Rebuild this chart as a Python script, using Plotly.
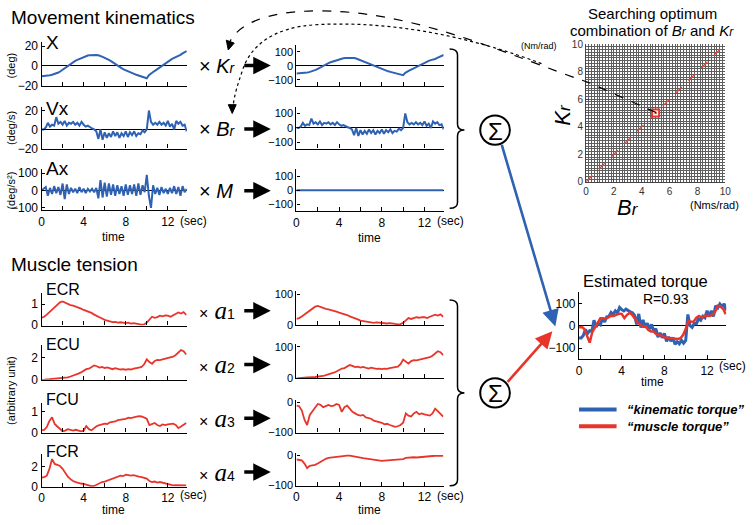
import plotly.graph_objects as go

W, H = 754, 525
BLUE = "#2f62b3"
RED = "#e8352b"
FONT = "Liberation Sans, Arial, sans-serif"
SERIF = "Liberation Serif, Times New Roman, serif"

# ---------------- data ----------------
T_KIN = [0.0, 0.2, 0.4, 0.6, 0.8, 1.0, 1.2, 1.4, 1.6, 1.8,
         2.0, 2.2, 2.4, 2.6, 2.8, 3.0, 3.2, 3.4, 3.6, 3.8,
         4.0, 4.2, 4.4, 4.6, 4.8, 5.0, 5.2, 5.4, 5.6, 5.8,
         6.0, 6.2, 6.4, 6.6, 6.8, 7.0, 7.2, 7.4, 7.6, 7.8,
         8.0, 8.2, 8.4, 8.6, 8.8, 9.0, 9.2, 9.4, 9.6, 9.8,
         10.0, 10.2, 10.4, 10.6, 10.8, 11.0, 11.2, 11.4, 11.6, 11.8,
         12.0, 12.2, 12.4, 12.6, 12.8, 13.0, 13.2, 13.4, 13.6, 13.8]

X_DEG = [-10.5, -10.4, -10.2, -9.9, -9.5, -9.0, -8.5, -7.8, -6.8, -5.5,
         -4.0, -2.2, -0.5, 1.0, 2.3, 3.8, 5.0, 6.0, 7.0, 8.0,
         9.0, 9.8, 10.4, 10.8, 11.0, 11.1, 11.0, 10.7, 10.2, 9.0,
         8.0, 7.2, 6.0, 4.8, 3.2, 1.8, 0.5, -1.0, -2.3, -3.5,
         -4.6, -5.6, -6.6, -7.4, -8.2, -9.0, -9.8, -10.6, -11.4, -12.0,
         -12.6, -9.5, -7.5, -6.2, -4.8, -3.2, -1.6, 0.0, 1.5, 3.0,
         4.2, 5.5, 7.0, 8.0, 8.5, 9.5, 11.0, 12.5, 14.0, 15.0]

VX_DEG_S = [0, 0, 2, 7, 3, 5, 4, 13, 6, 8,
            5, 9, 4, 7, 6, 8, 5, 7, 4, 8,
            5, 3, 4, 2, 1, 0, -2, -10, 0, -11,
            -3, -9, -4, -8, -2, -7, -3, -9, -4, -7,
            -2, -8, -3, -6, -2, -7, -4, -5, -1, -3,
            0, 20, 8, 5, 7, 5, 8, 5, 7, 4,
            9, 3, 6, 0, 9, 6, 8, 4, 5, -2]

AX_DEG_S2 = [0, 10, 20, -30, 15, -20, 25, -15, 20, -25,
             40, -50, 35, -20, 15, -10, 10, -15, 20, -10,
             10, -15, 10, -5, 10, -10, 15, -45, 60, -40,
             45, -35, 40, -25, 35, -30, 30, -20, 25, -30,
             35, -25, 30, -20, 35, -30, 40, -25, 30, -10,
             90, -30, -100, 30, -20, 15, -25, 20, -15, 10,
             -20, 15, -15, 25, -20, 20, -30, 25, -10, 10]

T_EMG = [0.0, 0.25, 0.5, 0.75, 1.0, 1.25, 1.5, 1.75, 2.0, 2.25,
         2.5, 2.75, 3.0, 3.25, 3.5, 3.75, 4.0, 4.25, 4.5, 4.75,
         5.0, 5.25, 5.5, 5.75, 6.0, 6.25, 6.5, 6.75, 7.0, 7.25,
         7.5, 7.75, 8.0, 8.25, 8.5, 8.75, 9.0, 9.25, 9.5, 9.75,
         10.0, 10.25, 10.5, 10.75, 11.0, 11.25, 11.5, 11.75, 12.0, 12.25,
         12.5, 12.75, 13.0, 13.25, 13.5, 13.75]

ECR = [0.35, 0.40, 0.50, 0.62, 0.75, 0.88, 1.00, 1.08, 1.12, 1.05,
       1.02, 0.95, 0.92, 0.88, 0.85, 0.78, 0.72, 0.68, 0.62, 0.58,
       0.50, 0.45, 0.38, 0.32, 0.25, 0.22, 0.18, 0.15, 0.16, 0.12,
       0.14, 0.12, 0.10, 0.12, 0.08, 0.10, 0.06, 0.05, 0.03, 0.04,
       0.12, 0.28, 0.40, 0.35, 0.38, 0.45, 0.42, 0.46, 0.45, 0.40,
       0.48, 0.52, 0.60, 0.55, 0.62, 0.48]

ECU = [-0.05, 0.00, 0.02, 0.03, 0.05, 0.04, 0.08, 0.10, 0.12, 0.15,
       0.20, 0.28, 0.35, 0.45, 0.55, 0.65, 0.80, 0.95, 1.00, 1.15,
       1.30, 1.22, 1.10, 1.15, 1.05, 1.12, 1.00, 0.95, 1.05, 0.98,
       0.92, 0.95, 0.90, 0.95, 0.92, 1.00, 1.02, 1.10, 1.15, 1.40,
       1.85, 1.60, 1.45, 1.70, 1.80, 1.78, 1.85, 1.90, 1.95, 2.05,
       2.10, 2.25, 2.45, 2.70, 2.60, 2.30]

FCU = [0.10, 0.12, 0.25, 0.55, 0.72, 0.40, 0.28, 0.15, 0.05, 0.08,
       0.15, 0.12, 0.08, 0.12, 0.10, 0.05, 0.08, 0.30, 0.15, 0.10,
       0.20, 0.30, 0.35, 0.40, 0.42, 0.40, 0.48, 0.50, 0.52, 0.58,
       0.60, 0.62, 0.65, 0.70, 0.68, 0.72, 0.75, 0.78, 0.76, 0.72,
       0.65, 0.35, 0.42, 0.45, 0.35, 0.30, 0.38, 0.35, 0.38, 0.40,
       0.42, 0.35, 0.20, 0.28, 0.38, 0.45]

FCR = [0.90, 0.95, 1.10, 1.80, 2.80, 2.30, 2.20, 2.10, 1.80, 1.40,
       1.00, 0.75, 0.55, 0.45, 0.35, 0.30, 0.25, 0.15, 0.10, 0.02,
       0.05, 0.20, 0.30, 0.45, 0.50, 0.60, 0.70, 0.80, 0.90, 1.00,
       1.10, 1.05, 1.20, 1.15, 1.10, 1.15, 1.05, 1.00, 0.95, 0.85,
       0.80, 0.55, 0.45, 0.50, 0.40, 0.45, 0.38, 0.30, 0.20, 0.15,
       0.10, 0.12, 0.10, 0.08, 0.10, 0.10]

# gains (middle panels relative to left panels)
KR_GAIN = 5.2
BR_GAIN = 5.0
M_GAIN = 0.0
A1, A2, A3, A4 = 55, 32, -105, -15

# optimum search point
BR_OPT = [5]
KR_OPT = [5]
DIAG_BR = [0, 10]
DIAG_KR = [0, 10]

KR_X = [KR_GAIN * v for v in X_DEG]
BR_VX = [BR_GAIN * v for v in VX_DEG_S]
M_AX = [M_GAIN * v for v in AX_DEG_S2]
A1_ECR = [A1 * v for v in ECR]
A2_ECU = [A2 * v for v in ECU]
A3_FCU = [A3 * v for v in FCU]
A4_FCR = [A4 * v for v in FCR]
KIN_TORQUE = [a + b + c for a, b, c in zip(KR_X, BR_VX, M_AX)]
MUS_TORQUE = [a + b + c + d for a, b, c, d in zip(A1_ECR, A2_ECU, A3_FCU, A4_FCR)]

# ---------------- layout helpers ----------------
def pxx(x):
    return x / W


def pxy(y):
    return 1 - y / H


fig = go.Figure()
layout = dict(width=W, height=H, margin=dict(l=0, r=0, t=0, b=0),
              paper_bgcolor="white", plot_bgcolor="rgba(0,0,0,0)",
              showlegend=False, font=dict(family=FONT, color="black"))


def axid(n):
    return ("x" if n == 1 else f"x{n}"), ("y" if n == 1 else f"y{n}")


def add_panel(n, xl, xr, ref1, ref2, top, bottom, yticks, xlabels, zl,
              ytfont=12, xtfont=12, xend=13.8):
    (v1, p1), (v2, p2) = ref1, ref2
    s = (p2 - p1) / (v1 - v2)
    ymax = v1 + (p1 - top) / s
    ymin = v2 - (bottom - p2) / s
    xa, ya = axid(n)
    xk = "xaxis" if n == 1 else f"xaxis{n}"
    yk = "yaxis" if n == 1 else f"yaxis{n}"
    layout[xk] = dict(domain=[pxx(xl), pxx(xr)], range=[0, xend], anchor=ya,
                      showline=True, linecolor="black", linewidth=1.3,
                      ticks="inside", ticklen=4, tickwidth=1.2, tickcolor="black",
                      tickmode="array", tickvals=[0, 2, 4, 6, 8, 10, 12],
                      ticktext=["0", "", "4", "", "8", "", "12"],
                      showticklabels=xlabels, showgrid=False, zeroline=False,
                      tickfont=dict(size=xtfont, family=FONT, color="black"))
    layout[yk] = dict(domain=[pxy(bottom), pxy(top)], range=[ymin, ymax], anchor=xa,
                      showline=True, linecolor="black", linewidth=1.3,
                      ticks="inside", ticklen=3, tickwidth=1.2, tickcolor="black",
                      tickmode="array", tickvals=yticks,
                      showgrid=False, zeroline=zl, zerolinecolor="black",
                      zerolinewidth=1.3,
                      tickfont=dict(size=ytfont, family=FONT, color="black"))
    return xa, ya


def line(n_axes, x, y, color, width):
    xa, ya = n_axes
    fig.add_trace(go.Scatter(x=x, y=y, mode="lines", xaxis=xa, yaxis=ya,
                             line=dict(color=color, width=width), hoverinfo="skip"))


# kinematics, left column
p = add_panel(1, 39, 186, (20, 42), (-20, 82.5), 38, 83, [-20, 0, 20], False, True)
line(p, T_KIN, X_DEG, BLUE, 2)
p = add_panel(2, 39, 186, (20, 108), (-20, 146.7), 104, 147, [-20, 0, 20], False, True)
line(p, T_KIN, VX_DEG_S, BLUE, 2)
p = add_panel(3, 39, 186, (100, 172), (-100, 207.7), 168, 210, [-100, 0, 100], True, True)
line(p, T_KIN, AX_DEG_S2, BLUE, 2)
# kinematics, middle column
p = add_panel(4, 297, 446, (100, 48), (-100, 76.7), 41, 83, [-100, 0, 100], False, True, ytfont=11)
line(p, T_KIN, KR_X, BLUE, 2)
p = add_panel(5, 297, 446, (100, 111), (-100, 140.7), 104, 147, [-100, 0, 100], False, True, ytfont=11)
line(p, T_KIN, BR_VX, BLUE, 2)
p = add_panel(6, 297, 446, (100, 175), (-100, 204), 168, 211, [-100, 0, 100], True, True, ytfont=11)
line(p, T_KIN, M_AX, BLUE, 2)
# muscle, left column
p = add_panel(7, 39, 186, (1, 306), (0, 327.7), 295, 328, [0, 1], False, False)
line(p, T_EMG, ECR, RED, 1.8)
p = add_panel(8, 39, 186, (2, 361), (0, 383.3), 348, 383.5, [0, 2], False, False)
line(p, T_EMG, ECU, RED, 1.8)
p = add_panel(9, 39, 186, (1, 416), (0, 437.3), 407, 437.5, [0, 1], False, False)
line(p, T_EMG, FCU, RED, 1.8)
p = add_panel(10, 39, 186, (2, 472.7), (0, 492.7), 459, 493, [0, 2], True, False)
line(p, T_EMG, FCR, RED, 1.8)
# muscle, middle column
p = add_panel(11, 297, 446, (100, 296), (0, 327.3), 293, 327.5, [0, 100], False, False, ytfont=11)
line(p, T_EMG, A1_ECR, RED, 1.8)
p = add_panel(12, 297, 446, (100, 350), (0, 381.7), 347, 382, [0, 100], False, False, ytfont=11)
line(p, T_EMG, A2_ECU, RED, 1.8)
p = add_panel(13, 297, 446, (0, 406.7), (-100, 437.3), 404, 437.5, [-100, 0], False, False, ytfont=11)
line(p, T_EMG, A3_FCU, RED, 1.8)
p = add_panel(14, 297, 446, (0, 461), (-100, 491.7), 458, 492, [-100, 0], True, False, ytfont=11)
line(p, T_EMG, A4_FCR, RED, 1.8)
# estimated torque
p = add_panel(15, 583, 732, (100, 305.3), (-100, 351.3), 294, 362.7, [-100, 0, 100], True, True)
line(p, T_KIN, KIN_TORQUE, BLUE, 3)
line(p, T_EMG, MUS_TORQUE, RED, 2.5)

# search grid
GRID = "#5e5e5e"
for k in ("xaxis16", "yaxis16"):
    layout[k] = dict(range=[0, 10], tick0=0, dtick=2, ticks="inside", ticklen=3,
                     tickcolor="#444", showline=True, linecolor="#444", linewidth=1,
                     showgrid=True, gridcolor=GRID, gridwidth=0.7,
                     minor=dict(tick0=0, dtick=0.2, showgrid=True,
                                gridcolor=GRID, gridwidth=0.7),
                     zeroline=False, tickfont=dict(size=10, color="#333"))
layout["xaxis16"].update(domain=[pxx(590), pxx(731)], anchor="y16")
layout["yaxis16"].update(domain=[pxy(181), pxy(40)], anchor="x16")
fig.add_trace(go.Scatter(x=DIAG_BR, y=DIAG_KR, mode="lines", xaxis="x16", yaxis="y16",
                         line=dict(color="#e0483c", width=1.3, dash="dash"), hoverinfo="skip"))
fig.add_trace(go.Scatter(x=BR_OPT, y=KR_OPT, mode="markers", xaxis="x16", yaxis="y16",
                         marker=dict(symbol="square", size=7, color="white",
                                     line=dict(color=RED, width=2)), hoverinfo="skip"))
fig.add_trace(go.Scatter(x=BR_OPT, y=KR_OPT, mode="markers", xaxis="x16", yaxis="y16",
                         marker=dict(symbol="circle", size=2.5, color=RED), hoverinfo="skip"))

# ---------------- annotations ----------------
anns = []


def text(x, y, t, size=12, xanchor="center", angle=0, family=FONT, color="black"):
    anns.append(dict(x=pxx(x), y=pxy(y), xref="paper", yref="paper", text=t,
                     showarrow=False, xanchor=xanchor, yanchor="middle",
                     textangle=angle, font=dict(size=size, family=family, color=color)))


def arrow(x0, y0, x1, y1, color="black", width=3.5, head=2, size=1.0):
    anns.append(dict(x=pxx(x1), y=pxy(y1), xref="paper", yref="paper", text="",
                     showarrow=True, ax=x0 - x1, ay=y0 - y1, axref="pixel", ayref="pixel",
                     arrowhead=head, arrowsize=size, arrowwidth=width, arrowcolor=color,
                     standoff=0, startstandoff=0))


text(6, 13, "Movement kinematics", 19, "left")
text(6, 266, "Muscle tension", 19, "left")
text(42, 38, "X", 19, "left")
text(42, 106, "Vx", 19, "left")
text(42, 167, "Ax", 19, "left")
text(8, 62, "(deg)", 11, angle=-90)
text(8, 126, "(deg/s)", 11, angle=-90)
text(8, 190, "(deg/s²)", 11, angle=-90)
text(8, 395, "(arbitrary unit)", 11, angle=-90)
text(42, 291, "ECR", 16, "left")
text(42, 347, "ECU", 16, "left")
text(42, 404, "FCU", 16, "left")
text(42, 457, "FCR", 16, "left")

for (xc, yc) in [(112, 237), (371, 238), (112, 517), (371, 517), (657, 386)]:
    text(xc, yc, "time", 12)
for (xs, ys) in [(177, 221), (437, 221), (177, 501), (437, 502), (723, 369)]:
    text(xs, ys, "(sec)", 12, "left")

SM = "<span style='font-size:14px'>"
rows = [
    (62, "× <i>K</i>" + SM + "<i>r</i></span>"),
    (127, "× <i>B</i>" + SM + "<i>r</i></span>"),
    (190, "× <i>M</i>"),
]
for y, t in rows:
    text(196, y, t, 20, "left")
    arrow(243, y, 271, y)
for i, y in enumerate([313, 368, 423, 478]):
    text(196, y, "<span style='font-size:16px;font-family:Liberation Sans'>×</span> "
         "<i>a</i><span style='font-size:14px;font-family:Liberation Sans'>" + str(i + 1) + "</span>",
         25, "left", family=SERIF)
    arrow(243, y, 271, y)

# sigma symbols
text(498, 129, "Σ", 24)
text(498, 398, "Σ", 24)

# arrows to torque
arrow(505, 146, 559, 329, BLUE, 2.6, 2, 1.3)
arrow(510, 386, 556, 334, RED, 2.6, 2, 1.3)

# grid labels
text(657, 9, "Searching optimum", 15)
text(657, 26, "combination of <i>B</i><span style='font-size:12px'><i>r</i></span> and "
     "<i>K</i><span style='font-size:12px'><i>r</i></span>", 15)
text(563, 42, "(Nm/rad)", 9, "right")
text(566, 112, "<i>K</i><span style='font-size:17px'><i>r</i></span>", 22, angle=-90)
text(633, 207, "<i>B</i><span style='font-size:17px'><i>r</i></span>", 22)
text(720, 205, "(Nms/rad)", 11)

# torque panel labels
text(650, 282, "Estimated torque", 16.5)
text(671, 301, "R=0.93", 14)
text(630, 414, "<b><i>“kinematic torque”</i></b>", 13, "left")
text(630, 431, "<b><i>“muscle torque”</i></b>", 13, "left")

# ---------------- shapes ----------------
shapes = []


def P(x, y):
    return f"{pxx(x):.5f},{pxy(y):.5f}"


def path(d, color="black", width=1.5, dash="solid", fill=None):
    s = dict(type="path", xref="paper", yref="paper", path=d,
             line=dict(color=color, width=width, dash=dash))
    if fill:
        s["fillcolor"] = fill
    shapes.append(s)


def brace(x0, x1, x2, top, mid, bottom):
    d = (f"M {P(x0, top)} Q {P(x1, top)} {P(x1, top + 6)} L {P(x1, mid - 6)} "
         f"Q {P(x1, mid)} {P(x2, mid)} Q {P(x1, mid)} {P(x1, mid + 6)} "
         f"L {P(x1, bottom - 6)} Q {P(x1, bottom)} {P(x0, bottom)}")
    path(d, width=1.5)


brace(452, 460, 467, 45, 128, 208)
brace(452, 460, 467, 302, 397, 492)

for (cx, cy) in [(498, 128), (498, 397)]:
    shapes.append(dict(type="circle", xref="paper", yref="paper",
                       x0=pxx(cx - 15), x1=pxx(cx + 15), y0=pxy(cy + 15), y1=pxy(cy - 15),
                       line=dict(color="black", width=2)))

# dashed curve from optimum point to Kr, dotted to Br
path(f"M {P(661, 110)} L {P(592, 79)} C {P(520, 55)} {P(420, 6)} {P(320, 6)} "
     f"C {P(262, 6)} {P(236, 22)} {P(229, 39)}", width=1.2, dash="dash")
path(f"M {P(545, 60)} C {P(480, 35)} {P(400, 16)} {P(320, 20)} "
     f"C {P(270, 22)} {P(250, 45)} {P(243, 65)} C {P(238, 80)} {P(234, 92)} {P(233, 103)}",
     width=1.2, dash="dot")
path(f"M {P(228, 46)} L {P(234, 39)} L {P(226, 36)} Z", width=1, fill="black")
path(f"M {P(232, 111)} L {P(236, 102)} L {P(228, 102)} Z", width=1, fill="black")

# legend swatches
shapes.append(dict(type="line", xref="paper", yref="paper", x0=pxx(583), x1=pxx(621),
                   y0=pxy(414), y1=pxy(414), line=dict(color=BLUE, width=4)))
shapes.append(dict(type="line", xref="paper", yref="paper", x0=pxx(583), x1=pxx(621),
                   y0=pxy(431), y1=pxy(431), line=dict(color=RED, width=4)))

layout["annotations"] = anns
layout["shapes"] = shapes
fig.update_layout(**layout)
fig.write_html("out.html", config={"displayModeBar": False},
               post_script="document.body.style.margin='0px';")
